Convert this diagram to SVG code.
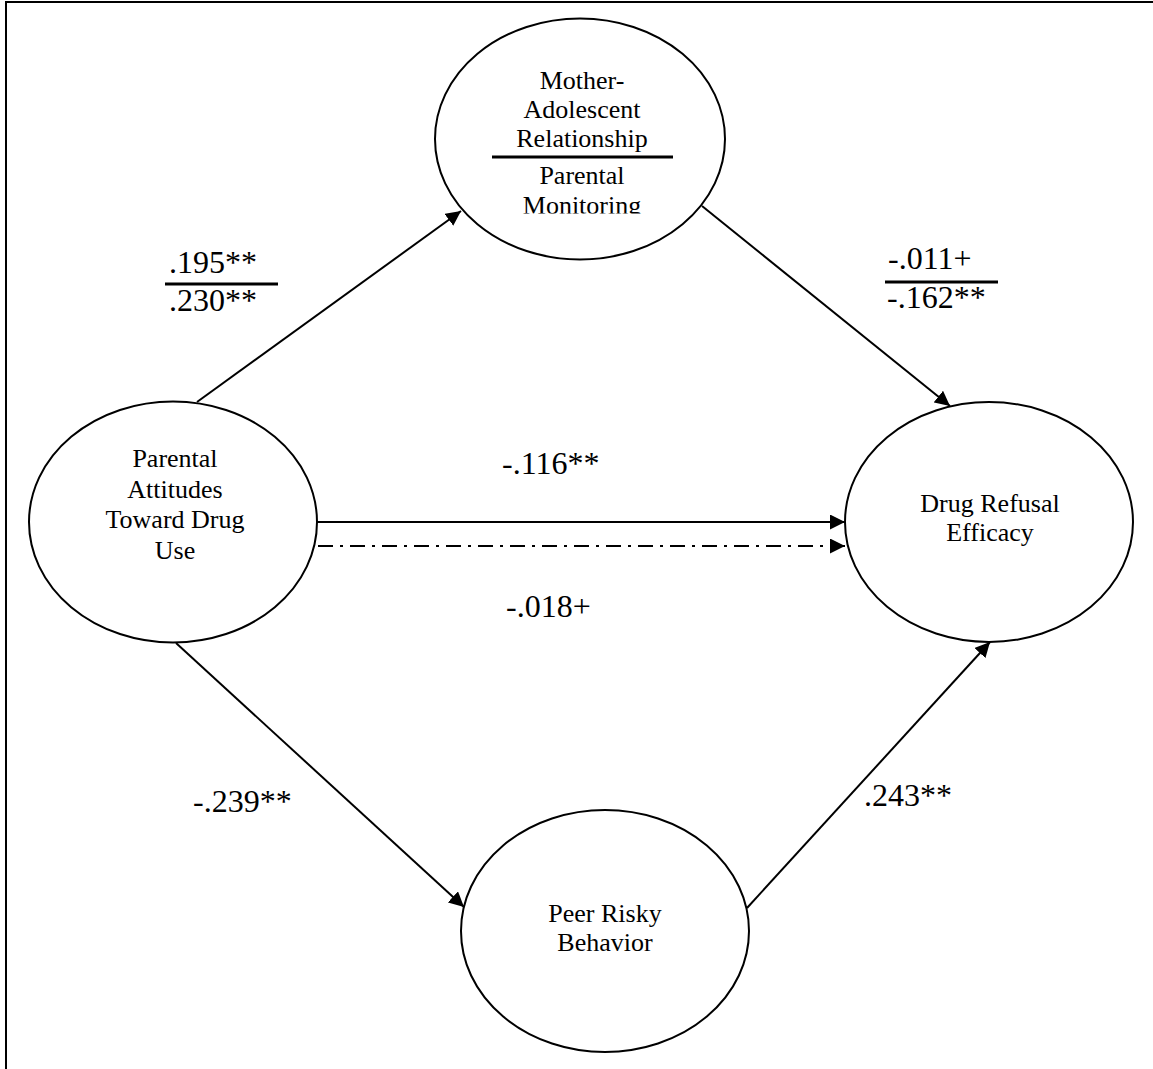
<svg xmlns="http://www.w3.org/2000/svg" width="1153" height="1069" viewBox="0 0 1153 1069">
  <style>
    .node { fill: #ffffff; stroke: #000000; stroke-width: 2; }
    .label { font-family: "Liberation Serif", "Times New Roman", serif; font-size: 26px; fill: #000000; text-anchor: middle; }
    .coef { font-family: "Liberation Serif", "Times New Roman", serif; font-size: 32px; fill: #000000; }
    .edge { stroke: #000000; stroke-width: 2; fill: none; }
    .dashdot { stroke-dasharray: 15 7 3 7; }
    .bar { stroke: #000000; stroke-width: 3; }
  </style>
  <defs>
    <marker id="head" viewBox="0 0 15 15" refX="15" refY="7.5" markerWidth="15" markerHeight="15" markerUnits="userSpaceOnUse" orient="auto-start-reverse">
      <path d="M0,0 L15,7.5 L0,15 Z" fill="#000000"/>
    </marker>
    <clipPath id="monitorClip">
      <rect x="430" y="0" width="300" height="213.5"/>
    </clipPath>
  </defs>

  <rect x="0" y="0" width="1153" height="1069" fill="#ffffff"/>

  <!-- frame -->
  <g id="frame">
    <line x1="5" y1="2" x2="1153" y2="2" stroke="#000000" stroke-width="2"/>
    <line x1="6" y1="1" x2="6" y2="1069" stroke="#000000" stroke-width="2"/>
  </g>

  <!-- connectors -->
  <g id="connectors">
    <line class="edge" x1="197" y1="402" x2="461" y2="211" marker-end="url(#head)"/>
    <line class="edge" x1="702" y1="206" x2="950" y2="406" marker-end="url(#head)"/>
    <line class="edge" x1="317" y1="522" x2="845" y2="522" marker-end="url(#head)"/>
    <!-- dash-dot path drawn from the arrow end so the pattern starts at the head -->
    <line class="edge dashdot" x1="845" y1="546" x2="316" y2="546" marker-start="url(#head)"/>
    <line class="edge" x1="176" y1="643" x2="464" y2="907" marker-end="url(#head)"/>
    <line class="edge" x1="747" y1="908" x2="990" y2="642" marker-end="url(#head)"/>
  </g>

  <!-- path coefficients -->
  <g id="coefficients">
    <text class="coef" x="169" y="273">.195**</text>
    <line class="bar" x1="165" y1="284" x2="278" y2="284"/>
    <text class="coef" x="169" y="311">.230**</text>

    <text class="coef" x="888" y="269">-.011+</text>
    <line class="bar" x1="885" y1="282" x2="998" y2="282"/>
    <text class="coef" x="887" y="308">-.162**</text>

    <text class="coef" x="502" y="474">-.116**</text>
    <text class="coef" x="506" y="617">-.018+</text>
    <text class="coef" x="193" y="812">-.239**</text>
    <text class="coef" x="864" y="806">.243**</text>
  </g>

  <!-- nodes -->
  <g id="node-mother-monitoring">
    <ellipse class="node" cx="580" cy="139" rx="145" ry="120.5"/>
    <text class="label" x="582" y="89">Mother-</text>
    <text class="label" x="582" y="118">Adolescent</text>
    <text class="label" x="582" y="147">Relationship</text>
    <line class="bar" x1="492" y1="157" x2="673" y2="157"/>
    <text class="label" x="582" y="184">Parental</text>
    <text class="label" x="582" y="214" clip-path="url(#monitorClip)">Monitoring</text>
  </g>

  <g id="node-parental-attitudes">
    <ellipse class="node" cx="173" cy="522" rx="144" ry="120.5"/>
    <text class="label" x="175" y="467">Parental</text>
    <text class="label" x="175" y="498">Attitudes</text>
    <text class="label" x="175" y="528">Toward Drug</text>
    <text class="label" x="175" y="559">Use</text>
  </g>

  <g id="node-drug-refusal">
    <ellipse class="node" cx="989" cy="522" rx="144" ry="120"/>
    <text class="label" x="990" y="512">Drug Refusal</text>
    <text class="label" x="990" y="541">Efficacy</text>
  </g>

  <g id="node-peer-risky">
    <ellipse class="node" cx="605" cy="931" rx="144" ry="121"/>
    <text class="label" x="605" y="922">Peer Risky</text>
    <text class="label" x="605" y="951">Behavior</text>
  </g>
</svg>
